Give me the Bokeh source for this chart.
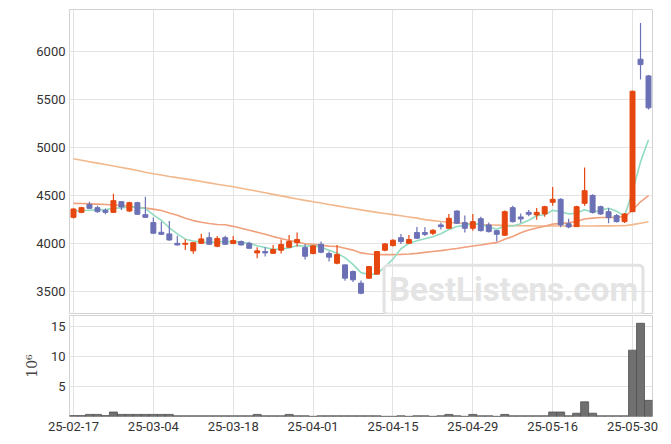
from bokeh.plotting import figure
from bokeh.layouts import column
from bokeh.models import FixedTicker, Range1d, Label, Grid, ColumnDataSource
from bokeh.embed import file_html
from bokeh.resources import INLINE

# ---- data ----
tick_labels = ["25-02-17", "25-03-04", "25-03-18", "25-04-01",
               "25-04-15", "25-04-29", "25-05-16", "25-05-30"]
tick_index = [0, 10, 20, 30, 40, 50, 60, 70]

opens = [4274, 4326, 4409, 4375, 4347, 4326, 4437, 4340, 4427, 4302,
         4219, 4118, 4101, 4003, 3993, 3924, 4003, 4062, 3972, 4062,
         4000, 4021, 4003, 3903, 3917, 3899, 3931, 3962, 4010, 3958,
         3896, 3993, 3896, 3795, 3778, 3708, 3587, 3639, 3681, 3931,
         3979, 4062, 4003, 4115, 4115, 4108, 4195, 4160, 4340, 4219,
         4160, 4260, 4195, 4135, 4087, 4375, 4278, 4326, 4299, 4309,
         4431, 4462, 4208, 4177, 4420, 4503, 4385, 4333, 4292, 4229,
         4333, 5924, 5750]
highs = [4370, 4385, 4437, 4396, 4365, 4521, 4444, 4437, 4437, 4490,
         4271, 4229, 4236, 4083, 4045, 4012, 4104, 4118, 4080, 4083,
         4080, 4031, 4020, 3962, 3962, 3986, 4042, 4090, 4115, 3997,
         3986, 4021, 3917, 3986, 3780, 3720, 3615, 3767, 3920, 4005,
         4045, 4101, 4090, 4174, 4170, 4150, 4219, 4309, 4345, 4292,
         4309, 4280, 4220, 4140, 4345, 4395, 4313, 4350, 4372, 4395,
         4590, 4472, 4260, 4395, 4795, 4515, 4395, 4368, 4309, 4319,
         5595, 6302, 5760]
lows = [4262, 4316, 4361, 4323, 4305, 4320, 4350, 4330, 4300, 4268,
        4105, 4090, 4030, 3980, 3934, 3893, 3995, 3985, 3962, 3986,
        3995, 3980, 3945, 3847, 3865, 3895, 3896, 3955, 3969, 3833,
        3890, 3899, 3813, 3785, 3611, 3600, 3472, 3630, 3681, 3920,
        3970, 3997, 3995, 4049, 4080, 4090, 4146, 4155, 4205, 4115,
        4135, 4125, 4115, 4021, 4083, 4220, 4218, 4285, 4250, 4280,
        4396, 4170, 4160, 4175, 4396, 4315, 4300, 4212, 4219, 4215,
        4330, 5712, 5400]
closes = [4361, 4375, 4368, 4333, 4326, 4448, 4382, 4427, 4306, 4274,
          4108, 4097, 4038, 3986, 4003, 4010, 4049, 3993, 4052, 3993,
          4031, 3986, 3951, 3924, 3903, 3938, 3990, 4021, 4042, 3868,
          3976, 3910, 3858, 3885, 3639, 3622, 3482, 3760, 3917, 3997,
          4035, 4021, 4042, 4056, 4097, 4139, 4177, 4264, 4212, 4160,
          4229, 4135, 4125, 4097, 4333, 4229, 4257, 4306, 4326, 4385,
          4462, 4195, 4174, 4385, 4552, 4326, 4309, 4271, 4229, 4309,
          5590, 5868, 5417]
volume_m = [0.15, 0.15, 0.35, 0.35, 0.15, 0.75, 0.35, 0.35, 0.35, 0.35,
            0.35, 0.35, 0.35, 0.12, 0.12, 0.12, 0.12, 0.12, 0.12, 0.12,
            0.12, 0.12, 0.12, 0.35, 0.12, 0.12, 0.12, 0.35, 0.12, 0.12,
            0.03, 0.12, 0.12, 0.12, 0.12, 0.12, 0.12, 0.12, 0.12, 0.03,
            0.03, 0.12, 0.03, 0.12, 0.12, 0.03, 0.12, 0.35, 0.12, 0.03,
            0.35, 0.12, 0.12, 0.03, 0.35, 0.12, 0.12, 0.12, 0.12, 0.12,
            0.75, 0.75, 0.12, 0.55, 2.45, 0.55, 0.12, 0.12, 0.12, 0.12,
            11.1, 15.6, 2.7]
ma5 = [4340, 4342, 4348, 4352, 4353, 4370, 4371, 4383, 4378, 4367,
       4299, 4242, 4165, 4101, 4046, 4027, 4017, 4008, 4021, 4019,
       4024, 4011, 4003, 3977, 3959, 3940, 3941, 3955, 3979, 3972,
       3979, 3963, 3931, 3899, 3854, 3783, 3697, 3678, 3684, 3756,
       3838, 3946, 4002, 4030, 4050, 4071, 4102, 4147, 4178, 4190,
       4208, 4200, 4172, 4149, 4184, 4184, 4208, 4244, 4290, 4301,
       4347, 4335, 4308, 4320, 4354, 4326, 4349, 4369, 4337, 4289,
       4542, 4853, 5083]
ma20 = [4420, 4418, 4415, 4412, 4408, 4403, 4398, 4390, 4380, 4370,
        4360, 4345, 4320, 4295, 4265, 4240, 4222, 4210, 4200, 4196,
        4180, 4161, 4140, 4119, 4098, 4073, 4053, 4033, 4019, 3999,
        3993, 3983, 3974, 3969, 3951, 3932, 3903, 3892, 3885, 3885,
        3885, 3887, 3892, 3898, 3908, 3918, 3927, 3939, 3948, 3962,
        3975, 3986, 4000, 4010, 4045, 4075, 4114, 4141, 4162, 4181,
        4203, 4211, 4218, 4234, 4257, 4266, 4273, 4273, 4274, 4282,
        4350, 4436, 4501]
ma_long = [4885, 4870, 4855, 4840, 4825, 4810, 4795, 4780, 4762, 4745,
           4729, 4715, 4700, 4688, 4675, 4662, 4648, 4634, 4620, 4607,
           4594, 4578, 4562, 4546, 4530, 4514, 4498, 4482, 4466, 4451,
           4437, 4423, 4408, 4394, 4380, 4366, 4352, 4339, 4326, 4314,
           4302, 4290, 4278, 4266, 4250, 4240, 4230, 4222, 4215, 4210,
           4205, 4200, 4196, 4193, 4190, 4188, 4186, 4185, 4184, 4184,
           4184, 4183, 4183, 4183, 4184, 4184, 4185, 4185, 4186, 4187,
           4198, 4213, 4228]

# ---- derived for drawing ----
idx = list(range(len(closes)))
UP = "#e6460f"
DOWN = "#6c71b6"
colors = [UP if c >= o else DOWN for o, c in zip(opens, closes)]
body_top = [max(o, c) for o, c in zip(opens, closes)]
body_bot = [min(o, c) for o, c in zip(opens, closes)]
src = ColumnDataSource(dict(x=idx, o=opens, h=highs, l=lows, c=closes,
                            top=body_top, bot=body_bot, color=colors,
                            vol=volume_m))

FONT = "Roboto"
GRID = "#e3e3e3"
OUTLINE = "#d2d2d2"

x_range = Range1d(-0.5, 72.5)

p = figure(width=663, height=314, x_range=x_range, y_range=Range1d(3260, 6443),
           output_backend="svg", toolbar_location=None, x_axis_location=None,
           min_border_left=69, min_border_right=11, min_border_top=9,
           min_border_bottom=0)
p.add_layout(Grid(dimension=0, ticker=FixedTicker(ticks=tick_index),
                  grid_line_color=GRID))
p.ygrid.grid_line_color = GRID
p.yaxis.ticker = FixedTicker(ticks=[3500, 4000, 4500, 5000, 5500, 6000])
p.outline_line_color = OUTLINE

for ax in [p.yaxis]:
    ax.axis_line_color = None
    ax.major_tick_line_color = None
    ax.minor_tick_line_color = None
    ax.major_tick_out = 0
    ax.major_tick_in = 0
    ax.minor_tick_out = 0
    ax.major_label_text_font = FONT
    ax.major_label_text_font_size = "13px"
    ax.major_label_text_color = "#333333"
    ax.major_label_standoff = 4

p.line(idx, ma_long, line_color="#f2b88c", line_width=1.6)
p.line(idx, ma20, line_color="#f0a07c", line_width=1.6)
p.line(idx, ma5, line_color="#92dcc2", line_width=1.6)
p.segment(x0="x", y0="h", x1="x", y1="l", color="color", line_width=1.2, source=src)
p.vbar(x="x", top="top", bottom="bot", width=0.62, fill_color="color",
       line_color="color", source=src)

wm = Label(x=55.1, y=3518, text="BestListens.com", text_align="center",
           text_baseline="middle", text_font=FONT, text_font_size="33px",
           text_font_style="bold", text_color="#e4e4e4",
           border_line_color="#e2e2e2", border_line_width=3,
           padding=5, border_radius=4)
p.add_layout(wm)

pv = figure(width=663, height=127, x_range=x_range, y_range=Range1d(0, 16.9),
            output_backend="svg", toolbar_location=None,
            min_border_left=69, min_border_right=11, min_border_top=1,
            min_border_bottom=25)
pv.outline_line_color = OUTLINE
pv.xgrid.grid_line_color = GRID
pv.ygrid.grid_line_color = GRID
pv.xaxis.ticker = FixedTicker(ticks=tick_index)
pv.xaxis.major_label_overrides = {i: lab for i, lab in zip(tick_index, tick_labels)}
pv.yaxis.ticker = FixedTicker(ticks=[5, 10, 15])
pv.yaxis.axis_label = "10\u2076"
pv.yaxis.axis_label_text_font = "DejaVu Serif"
pv.yaxis.axis_label_text_font_style = "normal"
pv.yaxis.axis_label_text_font_size = "14px"
pv.yaxis.axis_label_standoff = 8
for ax in [pv.xaxis, pv.yaxis]:
    ax.axis_line_color = None
    ax.major_tick_line_color = None
    ax.minor_tick_line_color = None
    ax.major_tick_out = 0
    ax.major_tick_in = 0
    ax.minor_tick_out = 0
    ax.major_label_text_font = FONT
    ax.major_label_text_font_size = "13px"
    ax.major_label_text_color = "#333333"
    ax.major_label_standoff = 4
pv.xaxis.major_label_standoff = 5

pv.vbar(x="x", top="vol", bottom=0, width=1.0, fill_color="#707070",
        line_color="#505050", line_width=0.8, source=src)

layout = column(p, pv, spacing=0)
open("out.html", "w").write(file_html(layout, INLINE))
